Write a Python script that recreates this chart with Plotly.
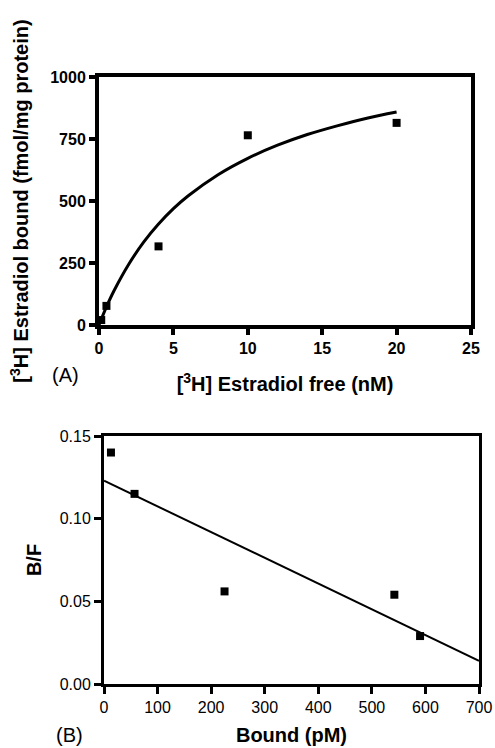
import plotly.graph_objects as go

# Panel A: saturation binding
free_nM = [0.15, 0.5, 4, 10, 20]
bound_fmol = [20, 77, 317, 765, 815]
# fitted one-site curve
fit_x = [0, 0.5, 1, 2, 3, 4, 5, 6, 8, 10, 12, 14, 16, 18, 20]
fit_y = [0, 73, 137, 245, 334, 407, 469, 521, 606, 672, 725, 768, 803, 834, 859]

# Panel B: Scatchard plot
bound_pM = [13, 57, 225, 542, 590]
bf_ratio = [0.140, 0.115, 0.056, 0.054, 0.029]
line_x = [0, 700]
line_y = [0.123, 0.014]

A_xticks = [0, 5, 10, 15, 20, 25]
A_yticks = [0, 250, 500, 750, 1000]
B_xticks = [0, 100, 200, 300, 400, 500, 600, 700]
B_yticks = [0.00, 0.05, 0.10, 0.15]

FONT = "Liberation Sans, Arial, sans-serif"
W, H = 495, 748

fig = go.Figure()
fig.add_trace(go.Scatter(x=fit_x, y=fit_y, mode="lines", line=dict(color="black", width=3, shape="spline"),
                         xaxis="x", yaxis="y", showlegend=False, hoverinfo="skip"))
fig.add_trace(go.Scatter(x=free_nM, y=bound_fmol, mode="markers",
                         marker=dict(symbol="square", size=8, color="black"),
                         xaxis="x", yaxis="y", showlegend=False, cliponaxis=False))
fig.add_trace(go.Scatter(x=line_x, y=line_y, mode="lines", line=dict(color="black", width=2),
                         xaxis="x2", yaxis="y2", showlegend=False, hoverinfo="skip"))
fig.add_trace(go.Scatter(x=bound_pM, y=bf_ratio, mode="markers",
                         marker=dict(symbol="square", size=8, color="black"),
                         xaxis="x2", yaxis="y2", showlegend=False, cliponaxis=False))

def px_x(a, b):
    return [a / W, b / W]

def px_y(top, bottom):
    return [1 - bottom / H, 1 - top / H]

axA = dict(showgrid=False, zeroline=False, showline=True, linecolor="black", linewidth=4, mirror=True,
           ticks="outside", ticklen=6, tickwidth=4, tickcolor="black", automargin=False,
           tickfont=dict(family=FONT, size=16, color="black", weight="bold"))
axB = dict(showgrid=False, zeroline=False, showline=True, linecolor="black", linewidth=3, mirror=True,
           ticks="outside", ticklen=7, tickwidth=3, tickcolor="black", automargin=False,
           tickfont=dict(family=FONT, size=16, color="black"))

TF = dict(family=FONT, size=20, weight="bold", color="black")

fig.update_layout(
    width=W, height=H, margin=dict(l=0, r=0, t=0, b=0),
    paper_bgcolor="white", plot_bgcolor="white",
    font=dict(family=FONT, color="black", size=16),
    xaxis=dict(axA, domain=px_x(99, 471), range=[0, 25], tickvals=A_xticks, anchor="y",
               title=dict(text="[<sup>3</sup>H] Estradiol free (nM)", font=TF, standoff=22)),
    yaxis=dict(axA, domain=px_y(77, 325), range=[0, 1000], tickvals=A_yticks, anchor="x",
               title=dict(text="[<sup>3</sup>H] Estradiol bound (fmol/mg protein)", font=TF, standoff=17)),
    xaxis2=dict(axB, domain=px_x(104, 479), range=[0, 700], tickvals=B_xticks, anchor="y2",
                title=dict(text="Bound (pM)", font=TF, standoff=13)),
    yaxis2=dict(axB, domain=px_y(436, 684), range=[0, 0.15], tickvals=B_yticks, tickformat=".2f", anchor="x2",
                title=dict(text="B/F", font=TF, standoff=13)),
    annotations=[
        dict(text="(A)", x=50 / W, y=1 - 375 / H, xref="paper", yref="paper", xanchor="left", yanchor="middle",
             showarrow=False, font=dict(family=FONT, size=20, color="black")),
        dict(text="(B)", x=54 / W, y=1 - 735 / H, xref="paper", yref="paper", xanchor="left", yanchor="middle",
             showarrow=False, font=dict(family=FONT, size=20, color="black")),
    ],
)

fig.write_html("out.html", config={"displayModeBar": False},
               post_script="document.body.style.margin='0';document.body.style.padding='0';")
